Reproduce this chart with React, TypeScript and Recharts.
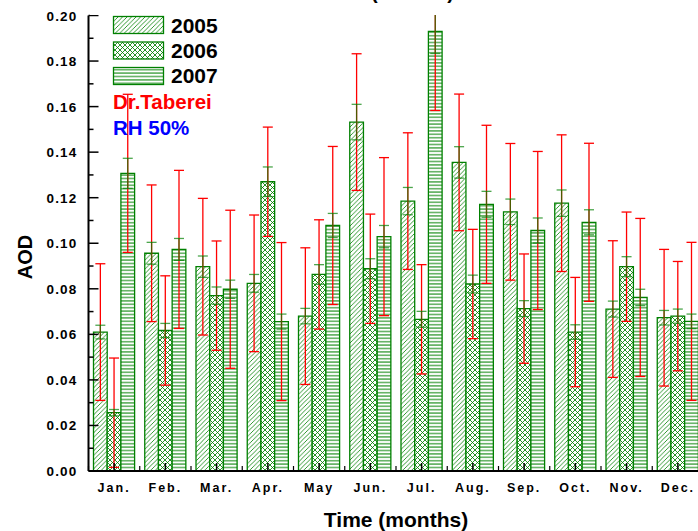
import { BarChart, Bar, XAxis, YAxis, ErrorBar } from 'recharts';

const months = ['Jan.', 'Feb.', 'Mar.', 'Apr.', 'May', 'Jun.', 'Jul.', 'Aug.', 'Sep.', 'Oct.', 'Nov.', 'Dec.'];

const aod2005 = [0.061, 0.0956, 0.0897, 0.0824, 0.068, 0.1532, 0.1185, 0.1355, 0.1138, 0.1176, 0.0711, 0.0673];
const aod2006 = [0.0256, 0.0617, 0.077, 0.127, 0.0863, 0.0888, 0.0666, 0.0821, 0.0713, 0.061, 0.0897, 0.068];
const aod2007 = [0.1307, 0.0973, 0.0798, 0.0656, 0.1078, 0.1029, 0.193, 0.1171, 0.1056, 0.1092, 0.0762, 0.0657];

// red bars (Dr.Taberei, RH 50%)
const err2005 = [0.03, 0.03, 0.03, 0.03, 0.03, 0.03, 0.03, 0.03, 0.03, 0.03, 0.03, 0.03];
const err2006 = [0.024, 0.024, 0.024, 0.024, 0.024, 0.024, 0.024, 0.024, 0.024, 0.024, 0.024, 0.024];
const err2007 = [0.0347, 0.0347, 0.0347, 0.0347, 0.0347, 0.0347, 0.0347, 0.0347, 0.0347, 0.0347, 0.0347, 0.0347];

// small green bars
const sd2005 = [0.003, 0.0048, 0.0047, 0.0039, 0.0034, 0.0078, 0.006, 0.0069, 0.0056, 0.0058, 0.0035, 0.0032];
const sd2006 = [0.0014, 0.0031, 0.0038, 0.0065, 0.0043, 0.0044, 0.0035, 0.0039, 0.0035, 0.0032, 0.0044, 0.0031];
const sd2007 = [0.0066, 0.0048, 0.004, 0.0033, 0.0053, 0.0049, 0.0097, 0.0057, 0.0055, 0.0055, 0.0036, 0.0032];

const yTicks = [0, 0.01, 0.02, 0.03, 0.04, 0.05, 0.06, 0.07, 0.08, 0.09, 0.1, 0.11, 0.12, 0.13, 0.14, 0.15, 0.16, 0.17, 0.18, 0.19, 0.2];

const data = months.map((m, i) => ({
  month: m,
  a2005: aod2005[i],
  a2006: aod2006[i],
  a2007: aod2007[i],
  e2005: err2005[i],
  e2006: err2006[i],
  e2007: err2007[i],
  s2005: sd2005[i],
  s2006: sd2006[i],
  s2007: sd2007[i],
}));

const FONT = 'Arial, "Liberation Sans", sans-serif';
const GREEN = '#008000';
const RED = '#ff0000';
const PLOT_TOP = 15.5;

function MonthTick(props: any) {
  const { x, y, payload, index, width, visibleTicksCount } = props;
  const half = width && visibleTicksCount ? width / visibleTicksCount / 2 : 25.6;
  return (
    <g>
      <line x1={x} y1={y} x2={x} y2={y - 8} stroke="#000" strokeWidth={1.5} />
      <line x1={x - half} y1={y} x2={x - half} y2={y - 5} stroke="#000" strokeWidth={1.2} />
      {index === months.length - 1 && (
        <line x1={x + half} y1={y} x2={x + half} y2={y - 5} stroke="#000" strokeWidth={1.2} />
      )}
      <text x={x} y={y + 21} textAnchor="middle" fontFamily={FONT} fontWeight="bold" fontSize={12.5} letterSpacing={2} fill="#000">
        {payload.value}
      </text>
    </g>
  );
}

function AodTick(props: any) {
  const { x, y, payload } = props;
  const major = Math.round(payload.value * 100) % 2 === 0;
  return (
    <g>
      <line x1={x} y1={y} x2={x + (major ? 10 : 5)} y2={y} stroke="#000" strokeWidth={1.5} />
      {major && (
        <text x={x - 11} y={y + 5} textAnchor="end" fontFamily={FONT} fontWeight="bold" fontSize={13.5} letterSpacing={1.2} fill="#000">
          {payload.value.toFixed(2)}
        </text>
      )}
    </g>
  );
}

function Patterns() {
  return (
    <defs>
      <pattern id="p2005" patternUnits="userSpaceOnUse" width={4.5} height={4.5}>
        <rect width={4.5} height={4.5} fill="#fff" />
        <path d="M-1,1 L1,-1 M0,4.5 L4.5,0 M3.5,5.5 L5.5,3.5" stroke={GREEN} strokeWidth={0.8} />
      </pattern>
      <pattern id="p2006" patternUnits="userSpaceOnUse" width={5} height={5}>
        <rect width={5} height={5} fill="#fff" />
        <path d="M-1,1 L1,-1 M0,5 L5,0 M4,6 L6,4 M-1,4 L1,6 M0,0 L5,5 M4,-1 L6,1" stroke={GREEN} strokeWidth={0.85} />
      </pattern>
      <pattern id="p2007" patternUnits="userSpaceOnUse" width={4} height={3.4}>
        <rect width={4} height={3.4} fill="#fff" />
        <line x1={0} y1={1.7} x2={4} y2={1.7} stroke={GREEN} strokeWidth={1} />
      </pattern>
    </defs>
  );
}

const legendRows = [
  { label: '2005', fill: 'url(#p2005)' },
  { label: '2006', fill: 'url(#p2006)' },
  { label: '2007', fill: 'url(#p2007)' },
];

export default function App() {
  return (
    <div style={{ position: 'absolute', left: 0, top: 0, width: 698, height: 531, overflow: 'hidden', background: '#fff' }}>
      <BarChart
        width={710}
        height={531}
        data={data}
        margin={{ top: PLOT_TOP, right: 6.5, left: 0, bottom: 0 }}
        barSize={13.7}
        barGap={0}
      >
        <Patterns />
        <XAxis
          dataKey="month"
          interval={0}
          height={60}
          tickSize={0}
          tickMargin={0}
          tickLine={false}
          axisLine={{ stroke: '#000', strokeWidth: 2 }}
          tick={<MonthTick />}
        />
        <YAxis
          type="number"
          domain={[0, 0.2]}
          ticks={yTicks}
          interval={0}
          allowDataOverflow
          width={88.5}
          tickSize={0}
          tickMargin={0}
          tickLine={false}
          axisLine={{ stroke: '#000', strokeWidth: 2 }}
          tick={<AodTick />}
        />
        <Bar dataKey="a2005" fill="url(#p2005)" stroke={GREEN} strokeWidth={1.3} isAnimationActive={false}>
          <ErrorBar dataKey="e2005" width={5} stroke={RED} strokeWidth={1.3} direction="y" />
          <ErrorBar dataKey="s2005" width={5} stroke={GREEN} strokeOpacity={0.7} strokeWidth={1.3} direction="y" />
        </Bar>
        <Bar dataKey="a2006" fill="url(#p2006)" stroke={GREEN} strokeWidth={1.3} isAnimationActive={false}>
          <ErrorBar dataKey="e2006" width={5} stroke={RED} strokeWidth={1.3} direction="y" />
          <ErrorBar dataKey="s2006" width={5} stroke={GREEN} strokeOpacity={0.7} strokeWidth={1.3} direction="y" />
        </Bar>
        <Bar dataKey="a2007" fill="url(#p2007)" stroke={GREEN} strokeWidth={1.3} isAnimationActive={false}>
          <ErrorBar dataKey="e2007" width={5} stroke={RED} strokeWidth={1.3} direction="y" />
          <ErrorBar dataKey="s2007" width={5} stroke={GREEN} strokeOpacity={0.7} strokeWidth={1.3} direction="y" />
        </Bar>
      </BarChart>
      <svg width={698} height={531} style={{ position: 'absolute', left: 0, top: 0, pointerEvents: 'none' }}>
        {/* plot is clipped at 0.20, hide anything drawn above it */}
        <rect x={90} y={0} width={608} height={PLOT_TOP - 0.5} fill="#fff" />
        <text x={371} y={-1} fontFamily={FONT} fontWeight="bold" fontSize={20} fill="#000">(Taberei)</text>
        {legendRows.map((r, i) => (
          <g key={r.label}>
            <rect x={113.5} y={16.5 + i * 25.5} width={50} height={17} fill={r.fill} stroke={GREEN} strokeWidth={1.3} />
            <text x={171} y={32.7 + i * 25} fontFamily={FONT} fontWeight="bold" fontSize={21} fill="#000">{r.label}</text>
          </g>
        ))}
        <text x={113} y={109.3} fontFamily={FONT} fontWeight="bold" fontSize={20.5} fill={RED}>Dr.Taberei</text>
        <text x={113} y={135} fontFamily={FONT} fontWeight="bold" fontSize={20.5} fill="#0000ff">RH 50%</text>
        <text x={32} y={257} transform="rotate(-90 32 257)" textAnchor="middle" fontFamily={FONT} fontWeight="bold" fontSize={20} fill="#000">AOD</text>
        <text x={396} y={527} textAnchor="middle" fontFamily={FONT} fontWeight="bold" fontSize={21} fill="#000">Time (months)</text>
      </svg>
    </div>
  );
}
